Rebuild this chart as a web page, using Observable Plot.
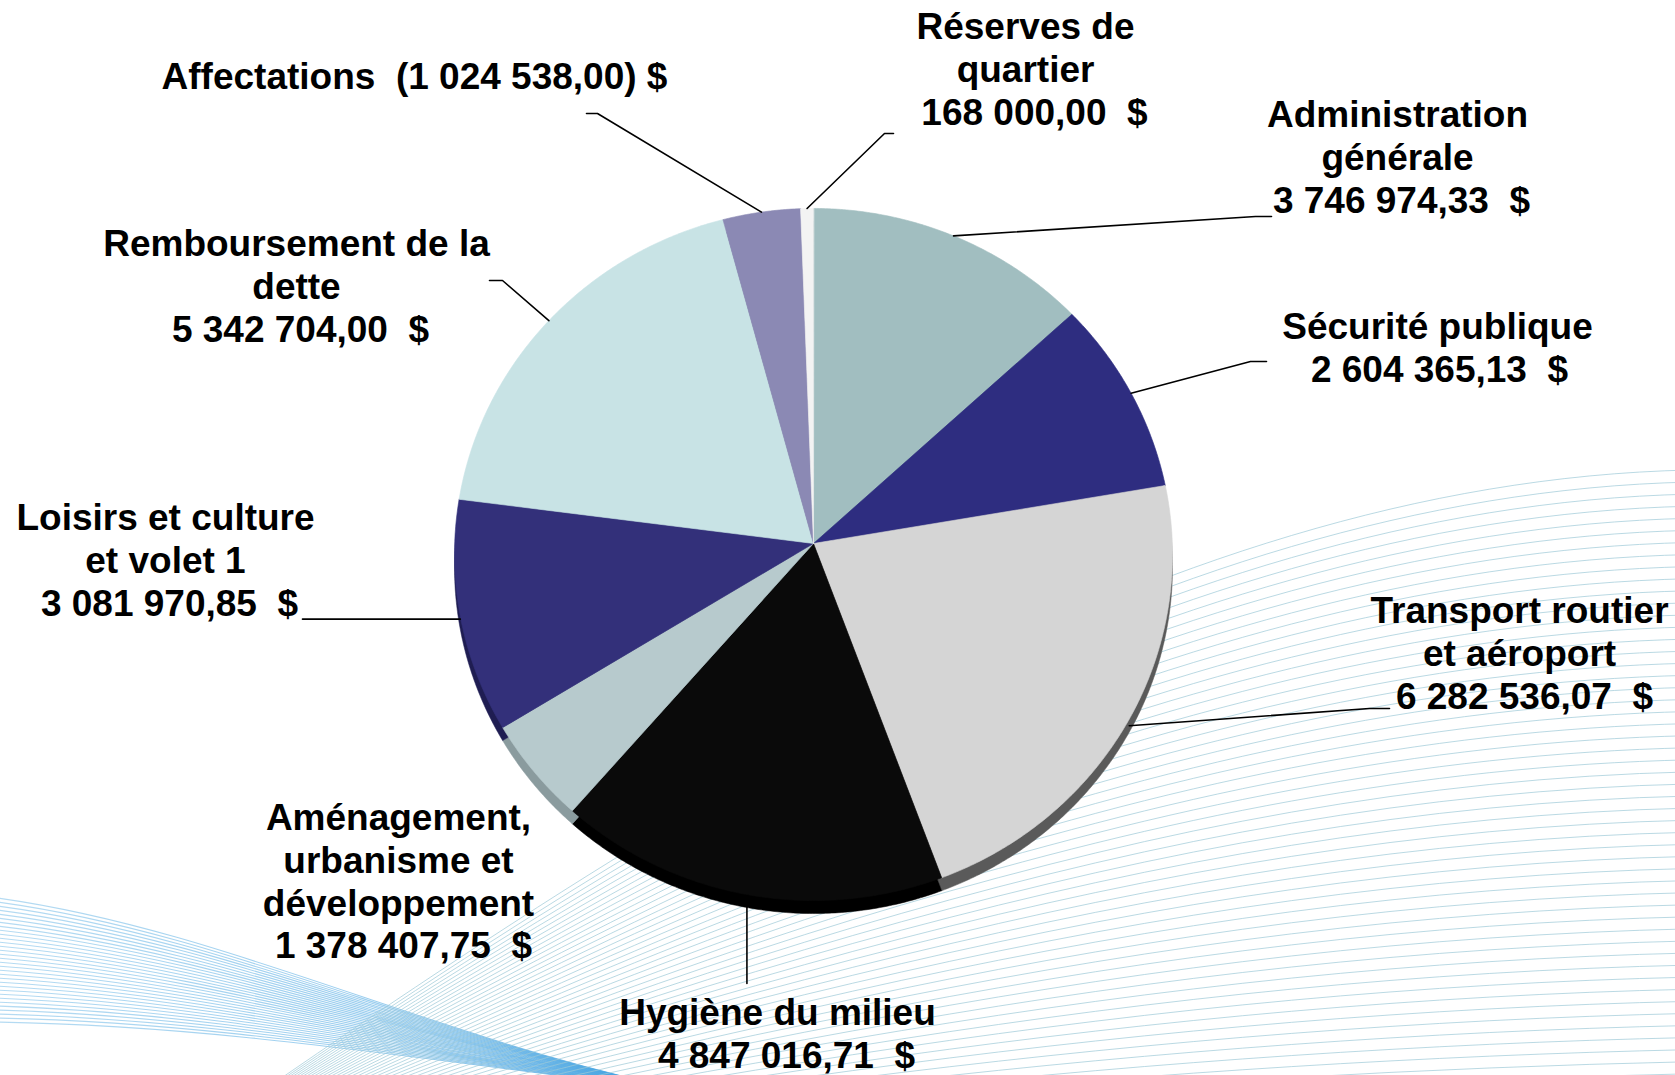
<!DOCTYPE html>
<html>
<head>
<meta charset="utf-8">
<script src="https://cdn.jsdelivr.net/npm/d3@7"></script>
<script src="https://cdn.jsdelivr.net/npm/@observablehq/plot@0.6"></script>
<style>
html, body { margin: 0; padding: 0; background: #ffffff; }
#wrap { position: relative; width: 1675px; height: 1075px; overflow: hidden; background: #ffffff; }
#bg { position: absolute; left: 0; top: 0; }
#chart { position: absolute; left: 0; top: 0; }
svg text { white-space: pre; }
</style>
</head>
<body>
<div id="wrap">
  <svg id="bg" width="1675" height="1075"></svg>
  <div id="chart"></div>
</div>
<script>
// ---------------- DATA ----------------
const categories = [
  "Administration générale",
  "Sécurité publique",
  "Transport routier et aéroport",
  "Hygiène du milieu",
  "Aménagement, urbanisme et développement",
  "Loisirs et culture et volet 1",
  "Remboursement de la dette",
  "Affectations",
  "Réserves de quartier"
];
const amounts = [3746974.33, 2604365.13, 6282536.07, 4847016.71, 1378407.75, 3081970.85, 5342704.00, -1024538.00, 168000.00];
const nameLines = [
  ["Administration", "générale"],
  ["Sécurité publique"],
  ["Transport routier", "et aéroport"],
  ["Hygiène du milieu"],
  ["Aménagement,", "urbanisme et", "développement"],
  ["Loisirs et culture", "et volet 1"],
  ["Remboursement de la", "dette"],
  ["Affectations"],
  ["Réserves de", "quartier"]
];

// ---------------- STYLE / LAYOUT ----------------
const sliceColors = ["#a1bec0", "#2e2d80", "#d5d5d5", "#0a0a0a", "#b7cacd", "#33307a", "#c8e3e5", "#8b89b4", "#f3f3f3"];
const rimColors   = ["#7d9597", "#1c1b55", "#5a5a5a", "#000000", "#8a9b9e", "#1f1d52", "#9fb6b8", "#66648a", "#c8c8c8"];
// label block: centre x of name lines, centre y of first line, extra x shift of value line, inline flag
const labelLayout = [
  {x: 1397, y: 115, vdx: 4},
  {x: 1437, y: 327, vdx: 2},
  {x: 1519, y: 611, vdx: 5},
  {x: 777,  y: 1013, vdx: 9},
  {x: 398,  y: 818, vdx: 5},
  {x: 165,  y: 518, vdx: 4},
  {x: 296,  y: 244, vdx: 4},
  {x: 414,  y: 77,  vdx: 0, inline: true},
  {x: 1025, y: 27,  vdx: 9}
];
// leader lines: elbow and end points (null = no leader)
const leaderLayout = [
  [[1255, 216], [1271, 216]],
  [[1250, 361], [1266, 361]],
  [[1369, 708], [1389, 708]],
  [null, [null, 983]],
  null,
  [null, [302, null]],
  [[502, 280], [489, 280]],
  [[597, 113], [586, 113]],
  [[884, 133], [893, 133]]
];

const W = 1675, H = 1075;
const CX = 813, CY = 543, R = 358.8, RT = 345.7, K = 0.0318, DEPTH = 13;
const LH = 42.7;

function proj(theta, dy = 0) {
  const w = 1 + K * Math.cos(theta);
  return {x: CX + R * Math.sin(theta) / w, y: CY - RT * Math.cos(theta) / w + dy};
}

// value labels
const fr = d3.formatLocale({decimal: ",", thousands: " ", grouping: [3], currency: ["", ""]});
const fmt = fr.format(",.2f");
const valueText = amounts.map(v => v < 0 ? `(${fmt(-v)}) $` : `${fmt(v)}  $`);

// pie geometry
const arcs = d3.pie().sort(null).value(d => Math.abs(d))(amounts);

function slicePoints(a, dy) {
  const pts = [{x: CX, y: CY + dy}];
  const n = Math.max(2, Math.ceil((a.endAngle - a.startAngle) / (Math.PI / 360)));
  for (let k = 0; k <= n; k++) {
    const t = a.startAngle + (a.endAngle - a.startAngle) * k / n;
    pts.push(proj(t, dy));
  }
  return pts;
}

const marks = [];
// rim (3D side)
arcs.forEach((a, i) => {
  marks.push(Plot.line(slicePoints(a, DEPTH), {x: "x", y: "y", fill: rimColors[i], stroke: rimColors[i], strokeWidth: 0.5, curve: "linear-closed"}));
});
// top faces
arcs.forEach((a, i) => {
  marks.push(Plot.line(slicePoints(a, 0), {x: "x", y: "y", fill: sliceColors[i], stroke: sliceColors[i], strokeWidth: 0.6, curve: "linear-closed"}));
});
// leaders
arcs.forEach((a, i) => {
  const L = leaderLayout[i];
  if (!L) return;
  const mid = (a.startAngle + a.endAngle) / 2;
  const anc = proj(mid, Math.cos(mid) < 0 ? DEPTH * (-Math.cos(mid)) : 0);
  const pts = [anc];
  const [elbow, end] = L;
  if (elbow) pts.push({x: elbow[0], y: elbow[1]});
  pts.push({x: end[0] == null ? anc.x : end[0], y: end[1] == null ? anc.y : end[1]});
  marks.push(Plot.line(pts, {x: "x", y: "y", stroke: "#000", strokeWidth: 1.6}));
});
// labels
const textRows = [];
labelLayout.forEach((l, i) => {
  if (l.inline) {
    textRows.push({x: l.x, y: l.y, t: nameLines[i][0] + "  " + valueText[i]});
  } else {
    nameLines[i].forEach((s, j) => textRows.push({x: l.x, y: l.y + j * LH, t: s}));
    textRows.push({x: l.x + l.vdx, y: l.y + nameLines[i].length * LH, t: valueText[i]});
  }
});
marks.push(Plot.text(textRows, {
  x: "x", y: "y", text: "t", fill: "#000",
  fontSize: 37, fontWeight: "bold", fontFamily: "'Liberation Sans', Arial, sans-serif",
  textAnchor: "middle", lineAnchor: "middle"
}));

const chart = Plot.plot({
  width: W, height: H, margin: 0,
  x: {domain: [0, W], range: [0, W], axis: null},
  y: {domain: [0, H], range: [0, H], axis: null},
  style: {background: "transparent", overflow: "visible"},
  marks
});
document.getElementById("chart").appendChild(chart);

// ---------------- decorative background waves ----------------
const bg = d3.select("#bg");
const defs = bg.append("defs");
const gA = defs.append("linearGradient")
  .attr("id", "wgA").attr("gradientUnits", "userSpaceOnUse")
  .attr("x1", 0).attr("y1", 0).attr("x2", 760).attr("y2", 0);
[[0, "#9ccfee"], [0.5, "#79bde9"], [0.8, "#4aa6e2"], [1, "#2f96de"]]
  .forEach(([o, c]) => gA.append("stop").attr("offset", o).attr("stop-color", c));

// family A: bundle from the left edge sinking to the bottom
const NA = 32;
for (let i = 0; i < NA; i++) {
  const t = i / (NA - 1);
  const y0 = 897 + 125 * t;
  const d = `M -10 ${y0} C 240 ${930 + 95 * t}, 470 ${1058 + 10 * t}, ${740 + 20 * t} ${1100}`;
  bg.append("path").attr("d", d).attr("fill", "none")
    .attr("stroke", "url(#wgA)").attr("stroke-width", 1.1).attr("stroke-opacity", 0.75);
}
// family B: lines fanning from below the lower left toward the right edge
const NB = 54;
for (let i = 0; i < NB; i++) {
  const u = i / (NB - 1);
  const yR = 470 + 640 * u;
  const d = `M 120 1190 C 650 ${1150 - 330 * (1 - u)}, 1150 ${yR + 12}, 1690 ${yR}`;
  bg.append("path").attr("d", d).attr("fill", "none")
    .attr("stroke", "#9dc9d7").attr("stroke-width", 1).attr("stroke-opacity", 0.7);
}
</script>
</body>
</html>
